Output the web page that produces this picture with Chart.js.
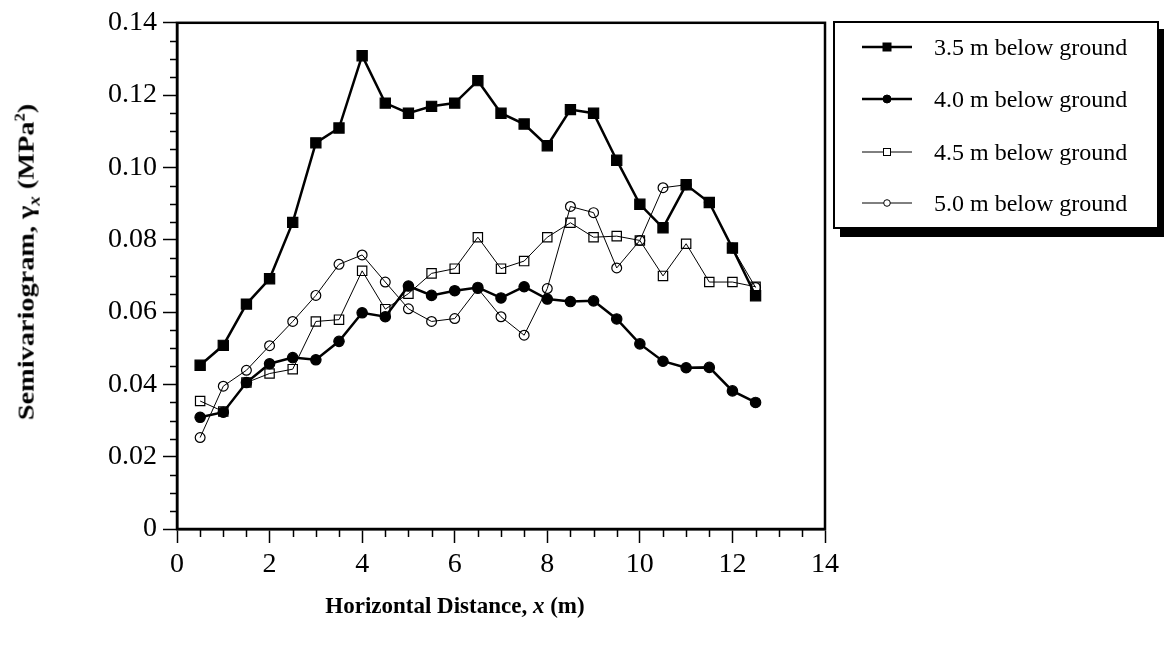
<!DOCTYPE html>
<html>
<head>
<meta charset="utf-8">
<title>Semivariogram</title>
<script src="https://cdn.jsdelivr.net/npm/chart.js@4.4.1/dist/chart.umd.min.js"></script>
<style>
  html, body { margin: 0; padding: 0; background: #fff; }
  #wrap {
    position: relative; width: 1164px; height: 648px; overflow: hidden;
    font-family: "Liberation Serif", "Times New Roman", serif; color: #000;
  }
  #chart { position: absolute; left: 0; top: 0; }
  .ytitle {
    position: absolute; left: 28px; top: 262px; white-space: nowrap;
    transform: translate(-50%, -50%) rotate(-90deg) scaleX(1.18);
    font-weight: bold; font-size: 24px;
  }
  .xtitle {
    position: absolute; left: 455px; top: 606px; white-space: nowrap;
    transform: translate(-50%, -50%);
    font-weight: bold; font-size: 23px;
  }
  #legend {
    position: absolute; left: 833px; top: 21px; width: 322px; height: 204px;
    border: 2px solid #000; background: #fff; box-shadow: 7px 8px 0 #000;
  }
  .row {
    position: absolute; left: 27px; height: 30px;
    display: flex; align-items: center; font-size: 24px; white-space: nowrap;
  }
  .row svg { margin-right: 22px; }
</style>
</head>
<body>
<div id="wrap">
  <canvas id="chart" width="1164" height="648"></canvas>
  <div class="ytitle">Semivariogram, γ<sub style="font-style:italic;font-size:16px">x</sub> (MPa<sup style="font-size:14px">2</sup>)</div>
  <div class="xtitle">Horizontal Distance, <i>x</i> (m)</div>
  <div id="legend"></div>
</div>

<script>
// Lag distances (m)
const distance = [0.5, 1.0, 1.5, 2.0, 2.5, 3.0, 3.5, 4.0, 4.5, 5.0, 5.5, 6.0, 6.5,
                  7.0, 7.5, 8.0, 8.5, 9.0, 9.5, 10.0, 10.5, 11.0, 11.5, 12.0, 12.5];

// Semivariogram values (MPa^2) for each depth
const gamma35 = [0.0453, 0.0508, 0.0622, 0.0692, 0.0848, 0.1068, 0.1109, 0.1309, 0.1178,
                 0.1150, 0.1169, 0.1178, 0.1240, 0.1150, 0.1120, 0.1060, 0.1160, 0.1150,
                 0.1020, 0.0898, 0.0833, 0.0952, 0.0903, 0.0777, 0.0645];
const gamma40 = [0.0309, 0.0323, 0.0405, 0.0457, 0.0474, 0.0468, 0.0519, 0.0598, 0.0587,
                 0.0672, 0.0646, 0.0659, 0.0668, 0.0639, 0.0670, 0.0636, 0.0629, 0.0631,
                 0.0581, 0.0512, 0.0464, 0.0446, 0.0447, 0.0382, 0.0350];
const gamma45 = [0.0354, 0.0325, 0.0405, 0.0430, 0.0442, 0.0574, 0.0579, 0.0714, 0.0608,
                 0.0651, 0.0707, 0.0720, 0.0807, 0.0720, 0.0741, 0.0807, 0.0847, 0.0807,
                 0.0810, 0.0798, 0.0700, 0.0789, 0.0683, 0.0683, 0.0670];
const gamma50 = [0.0253, 0.0395, 0.0439, 0.0507, 0.0574, 0.0646, 0.0732, 0.0758, 0.0683,
                 0.0609, 0.0574, 0.0582, 0.0665, 0.0587, 0.0536, 0.0665, 0.0892, 0.0875,
                 0.0722, 0.0798, 0.0944, 0.0952, 0.0903, 0.0777, 0.0668];

const seriesNames = ["3.5 m below ground", "4.0 m below ground", "4.5 m below ground", "5.0 m below ground"];

// Axis ticks
const xTicks = [0, 2, 4, 6, 8, 10, 12, 14];
const xTickLabels = ["0", "2", "4", "6", "8", "10", "12", "14"];
const yTicks = [0, 0.02, 0.04, 0.06, 0.08, 0.10, 0.12, 0.14];
const yTickLabels = ["0", "0.02", "0.04", "0.06", "0.08", "0.10", "0.12", "0.14"];
const xMinorStep = 0.5;
const yMinorStep = 0.005;

const FONT = "'Liberation Serif', 'Times New Roman', serif";

function toPoints(values) {
  return values.map((v, i) => ({ x: distance[i], y: v }));
}

// marker style per series
const styles = [
  { shape: "rect",   filled: true,  width: 2.5, radius: 7.2 },
  { shape: "circle", filled: true,  width: 2.5, radius: 5.2 },
  { shape: "rect",   filled: false, width: 1,   radius: 6.6 },
  { shape: "circle", filled: false, width: 1,   radius: 4.9 }
];
const seriesValues = [gamma35, gamma40, gamma45, gamma50];

const datasets = seriesValues.map((vals, i) => ({
  label: seriesNames[i],
  data: toPoints(vals),
  borderColor: "#000",
  borderWidth: styles[i].width,
  backgroundColor: styles[i].filled ? "#000" : "rgba(0,0,0,0)",
  pointStyle: styles[i].shape,
  pointRadius: styles[i].radius,
  pointBorderWidth: 1.2,
  pointBorderColor: "#000",
  pointBackgroundColor: styles[i].filled ? "#000" : "rgba(0,0,0,0)",
  tension: 0,
  clip: false
}));

// box around the plot area
const frame = {
  id: "frame",
  beforeDatasetsDraw(chart) {
    const { ctx, chartArea: a } = chart;
    ctx.save();
    ctx.strokeStyle = "#000";
    ctx.lineWidth = 2.5;
    ctx.strokeRect(a.left, a.top, a.right - a.left, a.bottom - a.top);
    ctx.restore();
  }
};

// short minor ticks between the labelled ones
const minorTicks = {
  id: "minorTicks",
  afterDraw(chart) {
    const { ctx, scales: { x, y } } = chart;
    ctx.save();
    ctx.strokeStyle = "#000";
    ctx.lineWidth = 1.5;
    ctx.beginPath();
    for (let v = x.min + xMinorStep; v < x.max; v += xMinorStep) {
      if (xTicks.some(t => Math.abs(t - v) < 1e-6)) continue;
      const px = Math.round(x.getPixelForValue(v)) + 0.5;
      ctx.moveTo(px, y.bottom);
      ctx.lineTo(px, y.bottom + 8);
    }
    for (let v = y.min + yMinorStep; v < y.max; v += yMinorStep) {
      if (yTicks.some(t => Math.abs(t - v) < 1e-6)) continue;
      const py = Math.round(y.getPixelForValue(v)) + 0.5;
      ctx.moveTo(x.left, py);
      ctx.lineTo(x.left - 7, py);
    }
    ctx.stroke();
    ctx.restore();
  }
};

new Chart(document.getElementById("chart"), {
  type: "line",
  data: { datasets },
  options: {
    responsive: false,
    animation: false,
    devicePixelRatio: 1,
    layout: { padding: { left: 0, right: 339, top: 21, bottom: 0 } },
    plugins: { legend: { display: false }, tooltip: { enabled: false } },
    scales: {
      x: {
        type: "linear", min: 0, max: 14,
        afterBuildTicks: s => { s.ticks = xTicks.map(v => ({ value: v })); },
        afterFit: s => { s.height = 119; },
        ticks: {
          callback: (v, i) => xTickLabels[i],
          font: { family: FONT, size: 28 }, color: "#000", padding: 5, maxRotation: 0
        },
        grid: { drawOnChartArea: false, tickLength: 14, tickColor: "#000", tickWidth: 1.5 },
        border: { color: "#000", width: 2.5 }
      },
      y: {
        type: "linear", min: 0, max: 0.14,
        afterBuildTicks: s => { s.ticks = yTicks.map(v => ({ value: v })); },
        afterFit: s => { s.width = 177; },
        ticks: {
          callback: (v, i) => yTickLabels[i],
          font: { family: FONT, size: 28 }, color: "#000", padding: 6
        },
        grid: { drawOnChartArea: false, tickLength: 14, tickColor: "#000", tickWidth: 1.5 },
        border: { color: "#000", width: 2.5 }
      }
    }
  },
  plugins: [frame, minorTicks]
});

// legend: line sample with marker, then the depth label
const legend = document.getElementById("legend");
const rowTops = [9, 61, 114, 165];
styles.forEach((s, i) => {
  const row = document.createElement("div");
  row.className = "row";
  row.style.top = rowTops[i] + "px";
  const fill = s.filled ? "#000" : "#fff";
  const mark = s.shape === "rect"
    ? `<rect x="${25 - (s.filled ? 4 : 3.5)}" y="${10 - (s.filled ? 4 : 3.5)}" width="${s.filled ? 8 : 7}" height="${s.filled ? 8 : 7}" fill="${fill}" stroke="#000" stroke-width="1"/>`
    : `<circle cx="25" cy="10" r="${s.filled ? 4 : 3.3}" fill="${fill}" stroke="#000" stroke-width="1"/>`;
  row.innerHTML = `<svg width="50" height="20"><line x1="0" y1="10" x2="50" y2="10" stroke="#000" stroke-width="${s.width}"/>${mark}</svg><span>${seriesNames[i]}</span>`;
  legend.appendChild(row);
});
</script>
</body>
</html>
